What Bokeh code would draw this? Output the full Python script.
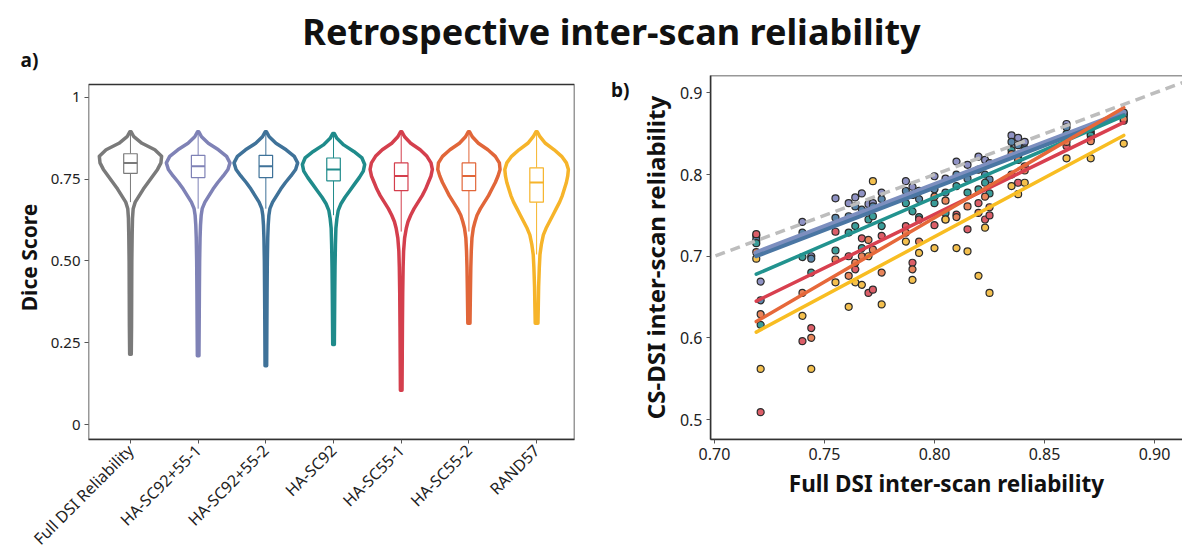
import numpy as np
from bokeh.plotting import figure
from bokeh.layouts import column, row
from bokeh.models import (FixedTicker, Label, Slope, Range1d, NumeralTickFormatter,
                          BoxAnnotation, LinearAxis)
from bokeh.embed import file_html
from bokeh.resources import INLINE

TITLE = "Retrospective inter-scan reliability"
FONT = "Noto Sans"

# ---------------- panel a data ----------------
categories = ["Full DSI Reliability", "HA-SC92+55-1", "HA-SC92+55-2", "HA-SC92",
              "HA-SC55-1", "HA-SC55-2", "RAND57"]
violin_colors = ["#7a7a7a", "#7f82b6", "#3f7299", "#1f8b8b", "#d43f4d", "#e16639", "#f6b42a"]

# violin outline profiles: Dice level and half width (category units)
v_full_y = [0.895, 0.88, 0.86, 0.84, 0.82, 0.80, 0.78, 0.76, 0.74, 0.72, 0.70, 0.68, 0.66, 0.63, 0.58, 0.50, 0.40, 0.30, 0.215]
v_full_w = [0.01, 0.05, 0.17, 0.36, 0.46, 0.45, 0.40, 0.33, 0.26, 0.19, 0.13, 0.07, 0.04, 0.03, 0.025, 0.02, 0.018, 0.016, 0.012]
v_sc1_y = [0.895, 0.88, 0.86, 0.84, 0.82, 0.80, 0.78, 0.76, 0.74, 0.72, 0.70, 0.68, 0.66, 0.64, 0.61, 0.57, 0.50, 0.40, 0.30, 0.21]
v_sc1_w = [0.01, 0.05, 0.15, 0.30, 0.42, 0.47, 0.44, 0.37, 0.29, 0.22, 0.16, 0.10, 0.06, 0.045, 0.035, 0.028, 0.022, 0.018, 0.015, 0.012]
v_sc2_y = [0.895, 0.88, 0.86, 0.84, 0.82, 0.80, 0.78, 0.76, 0.74, 0.72, 0.70, 0.68, 0.66, 0.64, 0.61, 0.57, 0.50, 0.40, 0.30, 0.18]
v_sc2_w = [0.01, 0.05, 0.15, 0.30, 0.42, 0.47, 0.44, 0.37, 0.29, 0.22, 0.16, 0.10, 0.06, 0.045, 0.035, 0.028, 0.022, 0.018, 0.015, 0.012]
v_sc92_y = [0.89, 0.875, 0.855, 0.835, 0.815, 0.795, 0.775, 0.755, 0.735, 0.715, 0.695, 0.675, 0.655, 0.63, 0.60, 0.55, 0.48, 0.40, 0.32, 0.245]
v_sc92_w = [0.01, 0.05, 0.15, 0.30, 0.42, 0.46, 0.44, 0.38, 0.31, 0.24, 0.17, 0.11, 0.07, 0.05, 0.035, 0.028, 0.022, 0.018, 0.015, 0.012]
v_sc551_y = [0.895, 0.88, 0.86, 0.84, 0.82, 0.80, 0.78, 0.76, 0.74, 0.72, 0.70, 0.68, 0.66, 0.64, 0.62, 0.60, 0.57, 0.53, 0.48, 0.40, 0.30, 0.20, 0.105]
v_sc551_w = [0.01, 0.05, 0.14, 0.28, 0.38, 0.44, 0.46, 0.44, 0.40, 0.36, 0.31, 0.25, 0.19, 0.14, 0.10, 0.075, 0.05, 0.035, 0.028, 0.022, 0.018, 0.015, 0.012]
v_sc552_y = [0.895, 0.88, 0.86, 0.84, 0.82, 0.80, 0.78, 0.76, 0.74, 0.72, 0.70, 0.68, 0.66, 0.64, 0.62, 0.60, 0.57, 0.53, 0.48, 0.40, 0.31]
v_sc552_w = [0.01, 0.05, 0.14, 0.28, 0.39, 0.45, 0.46, 0.43, 0.39, 0.34, 0.29, 0.23, 0.17, 0.12, 0.09, 0.065, 0.045, 0.035, 0.028, 0.022, 0.016]
v_rand_y = [0.895, 0.88, 0.86, 0.84, 0.82, 0.80, 0.78, 0.76, 0.74, 0.72, 0.70, 0.68, 0.66, 0.64, 0.62, 0.60, 0.58, 0.55, 0.52, 0.48, 0.42, 0.36, 0.31]
v_rand_w = [0.01, 0.05, 0.13, 0.26, 0.37, 0.44, 0.47, 0.46, 0.44, 0.41, 0.38, 0.34, 0.29, 0.24, 0.19, 0.14, 0.10, 0.07, 0.05, 0.04, 0.03, 0.025, 0.02]

violin_y = [v_full_y, v_sc1_y, v_sc2_y, v_sc92_y, v_sc551_y, v_sc552_y, v_rand_y]
violin_w = [v_full_w, v_sc1_w, v_sc2_w, v_sc92_w, v_sc551_w, v_sc552_w, v_rand_w]

box_q1 = [0.768, 0.755, 0.755, 0.745, 0.715, 0.715, 0.680]
box_med = [0.800, 0.790, 0.790, 0.780, 0.760, 0.760, 0.740]
box_q3 = [0.828, 0.823, 0.823, 0.815, 0.800, 0.800, 0.785]
whisk_lo = [0.680, 0.660, 0.660, 0.640, 0.590, 0.590, 0.520]
whisk_hi = [0.895, 0.895, 0.895, 0.890, 0.895, 0.895, 0.895]

a_yticks = [0, 0.25, 0.5, 0.75, 1.0]
a_ytick_labels = ["0", "0.25", "0.50", "0.75", "1"]
a_frame_top = 1.0397   # upper edge of the panel a box

# ---------------- panel b data ----------------
full_dsi = [0.719, 0.721, 0.740, 0.744, 0.755, 0.761, 0.764, 0.767, 0.770, 0.772, 0.776, 0.787, 0.790, 0.793,
            0.800, 0.805, 0.810, 0.815, 0.820, 0.823, 0.825, 0.835, 0.838, 0.841, 0.860, 0.871, 0.886]
cs_sc1 = [0.725, 0.669, 0.742, 0.700, 0.771, 0.765, 0.772, 0.777, 0.764, 0.765, 0.778, 0.792, 0.785, 0.780,
          0.798, 0.795, 0.816, 0.812, 0.822, 0.818, 0.814, 0.848, 0.845, 0.840, 0.862, 0.853, 0.874]
cs_sc2 = [0.720, 0.646, 0.729, 0.697, 0.747, 0.749, 0.761, 0.757, 0.755, 0.761, 0.770, 0.780, 0.775, 0.770,
          0.782, 0.778, 0.800, 0.795, 0.806, 0.800, 0.794, 0.840, 0.836, 0.832, 0.858, 0.850, 0.876]
cs_sc92 = [0.716, 0.616, 0.699, 0.680, 0.707, 0.729, 0.737, 0.710, 0.745, 0.749, 0.737, 0.765, 0.755, 0.748,
           0.765, 0.753, 0.786, 0.778, 0.782, 0.790, 0.777, 0.830, 0.822, 0.830, 0.850, 0.848, 0.872]
cs_sc551 = [0.727, 0.509, 0.596, 0.612, 0.730, 0.700, 0.684, 0.722, 0.655, 0.659, 0.725, 0.737, 0.692, 0.745,
            0.738, 0.745, 0.751, 0.733, 0.765, 0.745, 0.750, 0.800, 0.790, 0.810, 0.835, 0.843, 0.866]
cs_sc552 = [0.705, 0.629, 0.655, 0.600, 0.696, 0.676, 0.692, 0.700, 0.720, 0.708, 0.680, 0.729, 0.684, 0.718,
            0.773, 0.768, 0.748, 0.761, 0.753, 0.773, 0.760, 0.825, 0.818, 0.805, 0.840, 0.841, 0.868]
cs_rand = [0.697, 0.562, 0.627, 0.562, 0.668, 0.638, 0.668, 0.665, 0.700, 0.792, 0.641, 0.718, 0.671, 0.704,
           0.710, 0.745, 0.710, 0.706, 0.676, 0.735, 0.655, 0.786, 0.776, 0.790, 0.820, 0.820, 0.838]
series_vals = [cs_sc1, cs_sc2, cs_sc92, cs_sc551, cs_sc552, cs_rand]
series_colors = ["#8f92c4", "#5a86aa", "#3a9d99", "#dc5e68", "#e8845a", "#f4c04e"]
series_line_colors = ["#7d8fbf", "#4a76a3", "#22938f", "#d8404f", "#e6683a", "#f8bd22"]
series_line_widths = [5.5, 4, 3.5, 3.5, 3.5, 3.5]

# fitted regression lines read at the first and last subject
fit_x = [0.719, 0.886]
fit_sc1 = [0.704, 0.876]
fit_sc2 = [0.700, 0.873]
fit_sc92 = [0.678, 0.872]
fit_sc551 = [0.645, 0.864]
fit_sc552 = [0.620, 0.882]
fit_rand = [0.607, 0.848]
fits = [fit_sc1, fit_sc2, fit_sc92, fit_sc551, fit_sc552, fit_rand]

b_xticks = [0.70, 0.75, 0.80, 0.85, 0.90]
b_yticks = [0.5, 0.6, 0.7, 0.8, 0.9]
b_tag_level = 0.9123   # height of the "b)" tag

# ---------------- title strip (also carries the "a)" tag) ----------------
STRIP_H = 73
pt = figure(width=1182, height=STRIP_H, x_range=Range1d(0, 1182), y_range=Range1d(0, STRIP_H),
            toolbar_location=None, output_backend="svg", min_border=0)
pt.axis.visible = False
pt.grid.visible = False
pt.outline_line_color = None
pt.add_layout(Label(x=611, y=STRIP_H - 31, text=TITLE, text_align="center", text_baseline="middle",
                    text_font=FONT, text_font_style="bold", text_font_size="36px", text_color="#111111"))
pt.add_layout(Label(x=29, y=1, text="a)", text_align="center", text_baseline="bottom",
                    text_font=FONT, text_font_style="bold", text_font_size="19px", text_color="#111111"))


def style_axes(p):
    p.grid.visible = False
    p.outline_line_color = None
    for ax in p.axis:
        ax.axis_line_color = "#333333"
        ax.axis_line_width = 1.5
        ax.major_tick_line_color = "#555555"
        ax.major_tick_out = 4
        ax.major_tick_in = 0
        ax.minor_tick_line_color = None
        ax.major_label_text_font = FONT
        ax.major_label_text_font_size = "15px"
        ax.major_label_text_color = "#222222"
        ax.major_label_standoff = 4
        ax.axis_label_text_font = FONT
        ax.axis_label_text_font_style = "bold"
        ax.axis_label_text_font_size = "21px"
        ax.axis_label_text_color = "#111111"


PANEL_H = 560 - STRIP_H

# ---------------- panel a ----------------
pa = figure(width=600, height=PANEL_H, x_range=Range1d(-0.62, 6.56), y_range=Range1d(-0.0458, 1.0672),
            toolbar_location=None, output_backend="svg",
            min_border_left=88, min_border_right=26, min_border_top=2, min_border_bottom=121)
style_axes(pa)
pa.yaxis.axis_line_color = None
pa.add_layout(BoxAnnotation(left=pa.x_range.start, right=pa.x_range.end, bottom=pa.y_range.start,
                            top=a_frame_top, fill_color=None, fill_alpha=0,
                            line_color="#333333", line_alpha=1.0, line_width=1.5))
pa.yaxis.axis_label = "Dice Score"
pa.yaxis.ticker = FixedTicker(ticks=a_yticks)
pa.yaxis.major_label_overrides = {t: l for t, l in zip(a_yticks, a_ytick_labels)}
pa.xaxis.ticker = FixedTicker(ticks=list(range(len(categories))))
pa.xaxis.major_label_overrides = {i: c for i, c in enumerate(categories)}
pa.xaxis.major_label_orientation = np.pi / 4
pa.xaxis.major_label_text_font_size = "16px"

for i, (vy, vw, col) in enumerate(zip(violin_y, violin_w, violin_colors)):
    vy = np.array(vy)
    vw = np.array(vw)
    xs = np.concatenate([i + vw, (i - vw)[::-1]])
    ys = np.concatenate([vy, vy[::-1]])
    pa.patch(xs, ys, fill_color="white", line_color=col, line_width=3.5, line_join="round")
    pa.segment(x0=[i, i], y0=[whisk_lo[i], box_q3[i]], x1=[i, i], y1=[box_q1[i], whisk_hi[i]],
               line_color=col, line_width=1)
    pa.quad(left=[i - 0.1], right=[i + 0.1], bottom=[box_q1[i]], top=[box_q3[i]],
            fill_color="white", line_color=col, line_width=1.2)
    pa.segment(x0=[i - 0.1], y0=[box_med[i]], x1=[i + 0.1], y1=[box_med[i]], line_color=col, line_width=2)

# ---------------- panel b ----------------
pb = figure(width=582, height=PANEL_H, x_range=Range1d(0.6982, 0.9127), y_range=Range1d(0.4755, 0.9214),
            toolbar_location=None, output_backend="svg",
            min_border_left=110, min_border_right=0, min_border_top=2, min_border_bottom=121)
style_axes(pb)
# box open on the right: the panel runs past the picture's edge
pb.add_layout(BoxAnnotation(left=pb.x_range.start, right=pb.x_range.end + 0.01, bottom=pb.y_range.start,
                            top=pb.y_range.end, fill_color=None, fill_alpha=0,
                            line_color="#333333", line_alpha=1.0, line_width=1.5))
pb.xaxis.axis_label = "Full DSI inter-scan reliability"
pb.yaxis.axis_label = "CS-DSI inter-scan reliability"
pb.xaxis.axis_label_text_font_size = "22.5px"
pb.yaxis.axis_label_text_font_size = "24px"
pb.xaxis.ticker = FixedTicker(ticks=b_xticks)
pb.yaxis.ticker = FixedTicker(ticks=b_yticks)
pb.xaxis.formatter = NumeralTickFormatter(format="0.00")
pb.yaxis.formatter = NumeralTickFormatter(format="0.0")
pb.xaxis.major_label_text_font_size = "16px"
pb.yaxis.major_label_text_font_size = "16px"
# outer left axis carrying only the panel letter as its single tick label
tag_b = LinearAxis(ticker=FixedTicker(ticks=[b_tag_level]), major_label_overrides={b_tag_level: "b)"},
                   axis_line_color=None, major_tick_line_color=None, minor_tick_line_color=None,
                   major_label_standoff=0, major_label_text_font=FONT,
                   major_label_text_font_style="bold", major_label_text_font_size="19px",
                   major_label_text_color="#111111")
pb.add_layout(tag_b, "left")

for vals, col in zip(series_vals, series_colors):
    pb.scatter(full_dsi, vals, size=7, fill_color=col, line_color="#2b2b2b", line_width=1.2)

pb.add_layout(Slope(gradient=1, y_intercept=0, line_color="#bdbdbd", line_width=3.5, line_dash="10 6"))

for fy, col, lw in zip(fits, series_line_colors, series_line_widths):
    pb.line(fit_x, fy, line_color=col, line_width=lw, line_cap="round")

layout = column(pt, row(pa, pb))
open("out.html", "w").write(file_html(layout, INLINE))
